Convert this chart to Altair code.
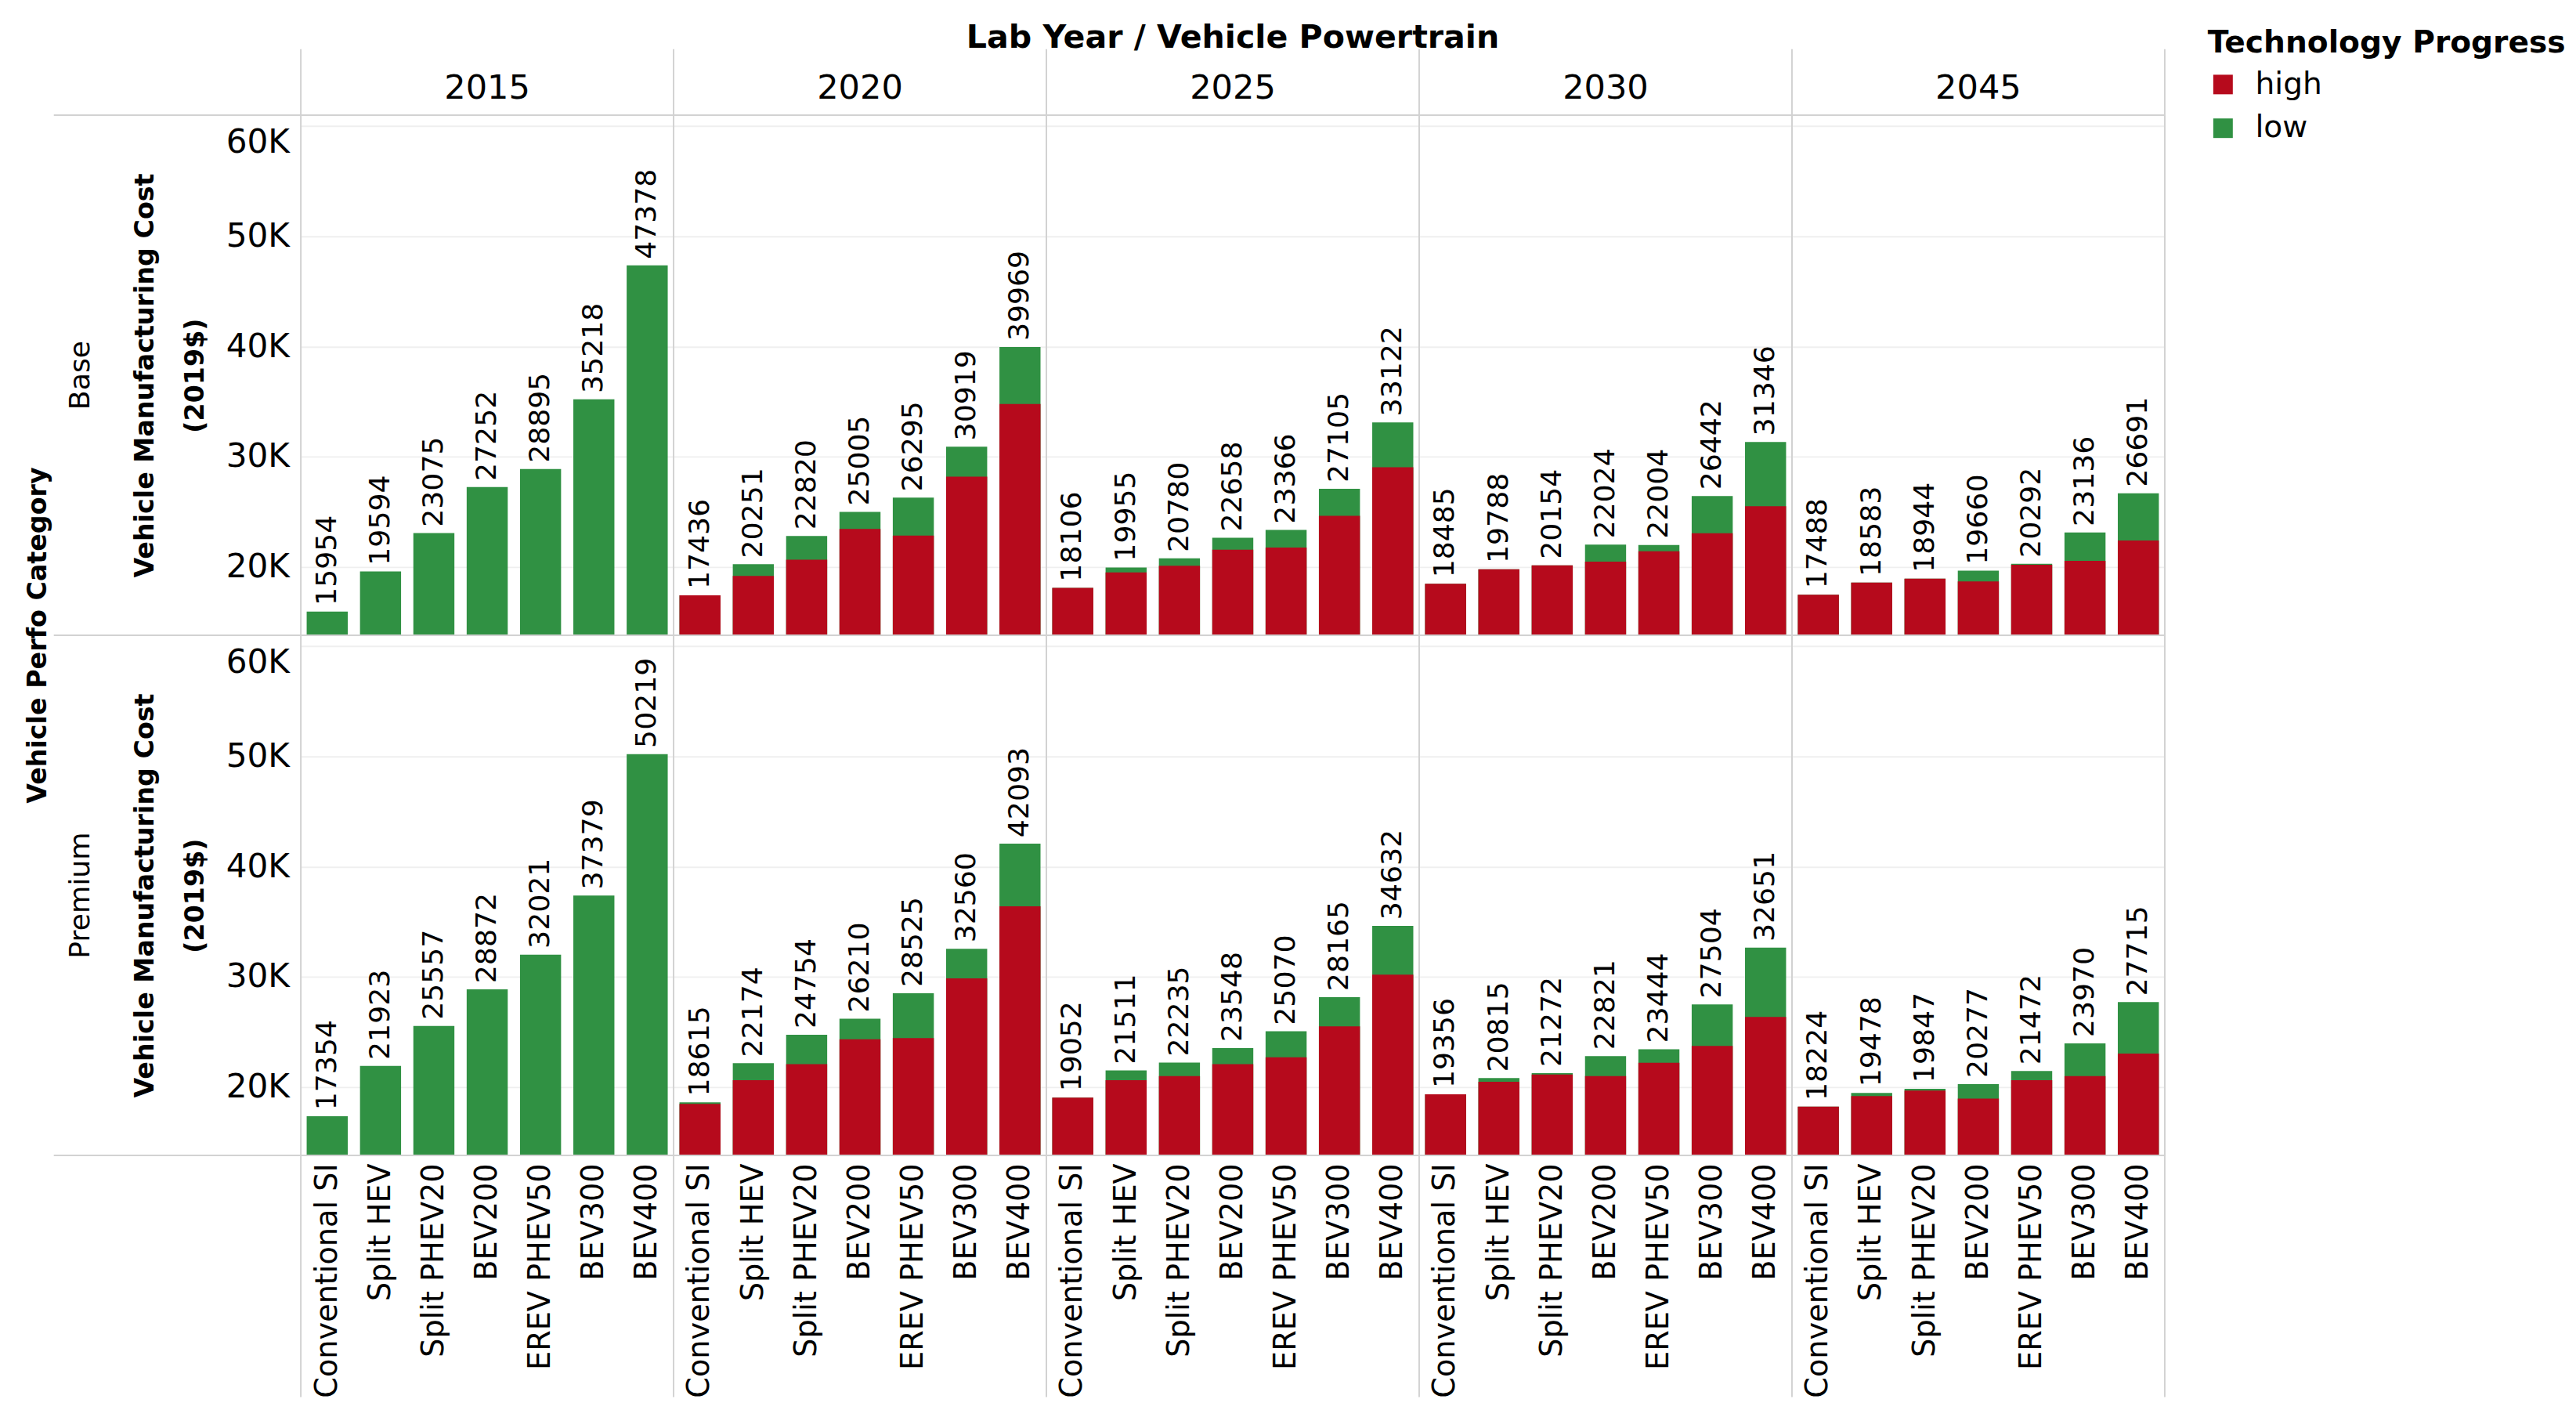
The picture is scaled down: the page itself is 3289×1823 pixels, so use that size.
import altair as alt
import pandas as pd

years = ["2015", "2020", "2025", "2030", "2045"]
categories = ["Base", "Premium"]
powertrains = ["Conventional SI", "Split HEV", "Split PHEV20", "BEV200",
               "EREV PHEV50", "BEV300", "BEV400"]

# Low technology progress (full bar, labelled value)
low_base = {
    "2015": [15954, 19594, 23075, 27252, 28895, 35218, 47378],
    "2020": [17436, 20251, 22820, 25005, 26295, 30919, 39969],
    "2025": [18106, 19955, 20780, 22658, 23366, 27105, 33122],
    "2030": [18485, 19788, 20154, 22024, 22004, 26442, 31346],
    "2045": [17488, 18583, 18944, 19660, 20292, 23136, 26691],
}
low_premium = {
    "2015": [17354, 21923, 25557, 28872, 32021, 37379, 50219],
    "2020": [18615, 22174, 24754, 26210, 28525, 32560, 42093],
    "2025": [19052, 21511, 22235, 23548, 25070, 28165, 34632],
    "2030": [19356, 20815, 21272, 22821, 23444, 27504, 32651],
    "2045": [18224, 19478, 19847, 20277, 21472, 23970, 27715],
}
# High technology progress (red part)
high_base = {
    "2020": [17436, 19180, 20670, 23450, 22850, 28200, 34790],
    "2025": [18106, 19510, 20110, 21570, 21760, 24640, 29060],
    "2030": [18485, 19788, 20154, 20490, 21420, 23070, 25510],
    "2045": [17488, 18583, 18944, 18690, 20200, 20560, 22400],
}
high_premium = {
    "2020": [18480, 20620, 22080, 24350, 24450, 29870, 36400],
    "2025": [19052, 20620, 21010, 22080, 22700, 25520, 30200],
    "2030": [19356, 20490, 21140, 21010, 22210, 23730, 26360],
    "2045": [18224, 19190, 19680, 18960, 20620, 21010, 23050],
}

col_title = "Lab Year / Vehicle Powertrain"
row_title = "Vehicle Perfo Category"

rows = []
for cat, low_d, high_d in [("Base", low_base, high_base),
                           ("Premium", low_premium, high_premium)]:
    for yr in years:
        for i, pt in enumerate(powertrains):
            rows.append({"Category": cat, "Year": yr, "Powertrain": pt,
                         "Progress": "low", "Cost": low_d[yr][i],
                         "ColTitle": col_title, "RowTitle": row_title})
            if yr in high_d:
                rows.append({"Category": cat, "Year": yr, "Powertrain": pt,
                             "Progress": "high", "Cost": high_d[yr][i],
                             "ColTitle": col_title, "RowTitle": row_title})
df = pd.DataFrame(rows)

FONT = "DejaVu Sans"
YMIN, YMAX = 13800, 61000
W, H = 486, 678
LINE = "#d2d2d2"
HEAD_UP = 86      # divider extension into the column header area
FOOT_DOWN = 315   # divider extension through the x label area
LEFT_EXT = 322    # horizontal divider extension into the row header area

x_enc = alt.X("Powertrain:N", sort=powertrains, title=None,
              scale=alt.Scale(paddingInner=0.23, paddingOuter=0.11),
              axis=alt.Axis(labelAngle=-90, labelFontSize=39, labelFont=FONT,
                            labelColor="black", ticks=False, domain=False,
                            labelPadding=10, labelLimit=1000))
y_scale = alt.Scale(domain=[YMIN, YMAX], zero=False, nice=False)
y_enc = alt.Y("Cost:Q", scale=y_scale,
              title=["Vehicle Manufacturing Cost", "(2019$)"],
              axis=alt.Axis(values=[20000, 30000, 40000, 50000, 60000],
                            labelExpr="datum.value / 1000 + 'K'",
                            labelFontSize=43, labelFont=FONT, labelColor="black",
                            labelFlush=30,
                            ticks=False, domain=False, labelPadding=15,
                            titleFontSize=34, titleFont=FONT, titleFontWeight="bold",
                            titleColor="black", titlePadding=22, titleLineHeight=66,
                            gridColor="#efefef", gridWidth=2))
color_enc = alt.Color("Progress:N",
                      scale=alt.Scale(domain=["high", "low"], range=["#b60a1c", "#309143"]),
                      legend=alt.Legend(title="Technology Progress", orient="none",
                                        legendX=2486, legendY=-114,
                                        titleFontSize=40, titleFont=FONT,
                                        titleFontWeight="bold", titleColor="black",
                                        titleLimit=1000,
                                        labelFontSize=40, labelFont=FONT, labelColor="black",
                                        symbolType="square", symbolSize=650,
                                        symbolStrokeWidth=0, rowPadding=17,
                                        titlePadding=14, labelOffset=22))

base = alt.Chart()

green = base.mark_bar(clip=True).encode(
    x=x_enc, y=y_enc, y2=alt.datum(YMIN), color=color_enc
).transform_filter(alt.datum.Progress == "low")

red = base.mark_bar(clip=True).encode(
    x=x_enc, y=y_enc, y2=alt.datum(YMIN), color=color_enc
).transform_filter(alt.datum.Progress == "high")

labels = base.mark_text(angle=270, align="left", baseline="middle", dx=8,
                        fontSize=37, font=FONT, color="black").encode(
    x=x_enc, y=y_enc, text=alt.Text("Cost:Q", format="d")
).transform_filter(alt.datum.Progress == "low")

one = (alt.datum.Progress == "low") & (alt.datum.Powertrain == "BEV400")
top_row = alt.datum.Category == "Base"
bot_row = alt.datum.Category == "Premium"
first_col = alt.datum.Year == "2015"
mid_col = alt.datum.Year == "2025"
last_col = alt.datum.Year == "2045"


def rule(filt, **enc):
    return base.mark_rule(color=LINE, strokeWidth=2).encode(**enc).transform_filter(
        one).transform_filter(filt)


dividers = [
    # left edge of every cell
    rule(top_row, x=alt.value(0), y=alt.value(-HEAD_UP), y2=alt.value(H)),
    rule(bot_row, x=alt.value(0), y=alt.value(0), y2=alt.value(H + FOOT_DOWN)),
    # right edge of last column
    rule(top_row & last_col, x=alt.value(W), y=alt.value(-HEAD_UP), y2=alt.value(H)),
    rule(bot_row & last_col, x=alt.value(W), y=alt.value(0), y2=alt.value(H + FOOT_DOWN)),
    # top edge of every cell (extended left in first column)
    rule(~first_col, x=alt.value(0), x2=alt.value(W), y=alt.value(0)),
    rule(first_col, x=alt.value(-LEFT_EXT), x2=alt.value(W), y=alt.value(0)),
    # bottom edge of the lower row
    rule(bot_row & ~first_col, x=alt.value(0), x2=alt.value(W), y=alt.value(H)),
    rule(bot_row & first_col, x=alt.value(-LEFT_EXT), x2=alt.value(W), y=alt.value(H)),
]

# Overall titles, centred like Tableau: over the panels / on the row boundary
col_title_mark = base.mark_text(fontSize=42, font=FONT, fontWeight="bold", color="black",
                                align="center", baseline="middle").encode(
    x=alt.value(W / 2), y=alt.value(-101), text="ColTitle:N"
).transform_filter(one).transform_filter(top_row & mid_col)

row_title_mark = base.mark_text(fontSize=34, font=FONT, fontWeight="bold", color="black",
                                align="center", baseline="middle", angle=270).encode(
    x=alt.value(-342), y=alt.value(H), text="RowTitle:N"
).transform_filter(one).transform_filter(top_row & first_col)

layered = alt.layer(green, red, labels, *dividers, col_title_mark, row_title_mark
                    ).properties(width=W, height=H)

chart = layered.facet(
    data=df,
    column=alt.Column("Year:N", sort=years, title=None,
                      header=alt.Header(labelFontSize=44, labelFont=FONT, labelColor="black",
                                        labelPadding=13)),
    row=alt.Row("Category:N", sort=categories, title=None,
                header=alt.Header(labelAngle=-90, labelFontSize=37, labelFont=FONT,
                                  labelColor="black", labelOrient="left",
                                  labelPadding=30)),
    spacing=0,
    bounds="flush",
).properties(
    padding={"left": 24, "top": 0, "right": 5, "bottom": 5}
).configure_view(strokeWidth=0).configure(background="white")

chart.save("out.html", embed_options={"renderer": "svg", "actions": False})
